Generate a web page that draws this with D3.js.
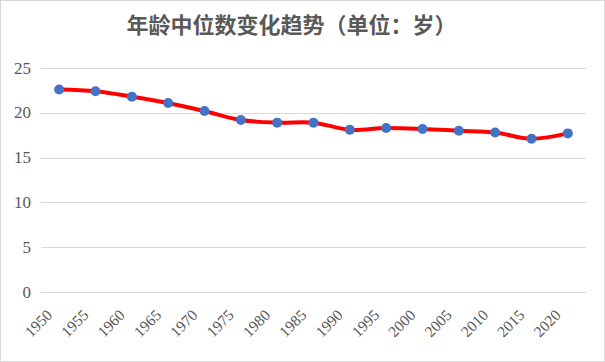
<!DOCTYPE html>
<meta charset="utf-8">
<style>
body { margin: 0; background: #fff; }
text { fill: #595959; }
.grid line { stroke: #d9d9d9; stroke-width: 1px; }
.tick-label { font-family: "Liberation Serif", "DejaVu Serif", serif; }
</style>
<svg width="605" height="362"></svg>
<script src="https://d3js.org/d3.v7.min.js"></script>
<script>

// median age by year
var years = ["1950","1955","1960","1965","1970","1975","1980","1985","1990","1995","2000","2005","2010","2015","2020"];
var median_age = [22.6, 22.4, 21.8, 21.1, 20.2, 19.2, 18.9, 18.9, 18.1, 18.3, 18.2, 18.0, 17.8, 17.1, 17.7];
var y_ticks = [0, 5, 10, 15, 20, 25];
var title = "年龄中位数变化趋势（单位：岁）";

var line_colour = "#ff0000";
var marker_colour = "#4472c4";

var svg = d3.select("svg"),
    width = +svg.attr("width"),
    height = +svg.attr("height");

var margin = {left: 41, right: 19, top: 68, bottom: 70};

// outer chart border
svg.append("rect")
   .attr("x", 0.5).attr("y", 0.5)
   .attr("width", width - 1).attr("height", height - 1)
   .style("fill", "white")
   .style("stroke", "#d9d9d9");

var x = d3.scaleBand()
    .domain(years)
    .range([margin.left, width - margin.right]);

var y = d3.scaleLinear()
    .domain([0, 25])
    .range([height - margin.bottom, margin.top]);

// gridlines
svg.append("g")
   .attr("class", "grid")
   .selectAll("line")
   .data(y_ticks)
   .enter().append("line")
   .attr("x1", margin.left)
   .attr("x2", width - margin.right)
   .attr("y1", function(d) { return Math.round(y(d)) + 0.5; })
   .attr("y2", function(d) { return Math.round(y(d)) + 0.5; });

// y labels
svg.append("g")
   .selectAll("text")
   .data(y_ticks)
   .enter().append("text")
   .attr("class", "tick-label")
   .style("font-size", "17px")
   .attr("x", 31)
   .attr("y", function(d) { return y(d) + 5.5; })
   .attr("text-anchor", "end")
   .text(function(d) { return d; });

// x labels, rotated
svg.append("g")
   .selectAll("text")
   .data(years)
   .enter().append("text")
   .attr("class", "tick-label")
   .style("font-size", "15.5px")
   .attr("text-anchor", "end")
   .attr("transform", function(d) {
       var cx = x(d) + x.bandwidth() / 2 - 6;
       return "translate(" + cx + "," + 316 + ") rotate(-45)";
   })
   .text(function(d) { return d; });

var pts = years.map(function(d, i) { return [x(d) + x.bandwidth() / 2, y(median_age[i])]; });

var line = d3.line().curve(d3.curveCatmullRom.alpha(0.5));

svg.append("path")
   .attr("d", line(pts))
   .style("fill", "none")
   .style("stroke", line_colour)
   .style("stroke-width", 4)
   .style("stroke-linejoin", "round")
   .style("stroke-linecap", "round");

svg.append("g")
   .selectAll("circle")
   .data(pts)
   .enter().append("circle")
   .attr("cx", function(d) { return d[0]; })
   .attr("cy", function(d) { return d[1]; })
   .attr("r", 5)
   .style("fill", marker_colour);

// title
svg.append("text")
   .attr("x", width / 2 - 11)
   .attr("y", 33)
   .attr("text-anchor", "middle")
   .style("font-family", "'Noto Sans CJK SC', sans-serif")
   .style("font-weight", "bold")
   .style("font-size", "22px")
   .text(title);

</script>
